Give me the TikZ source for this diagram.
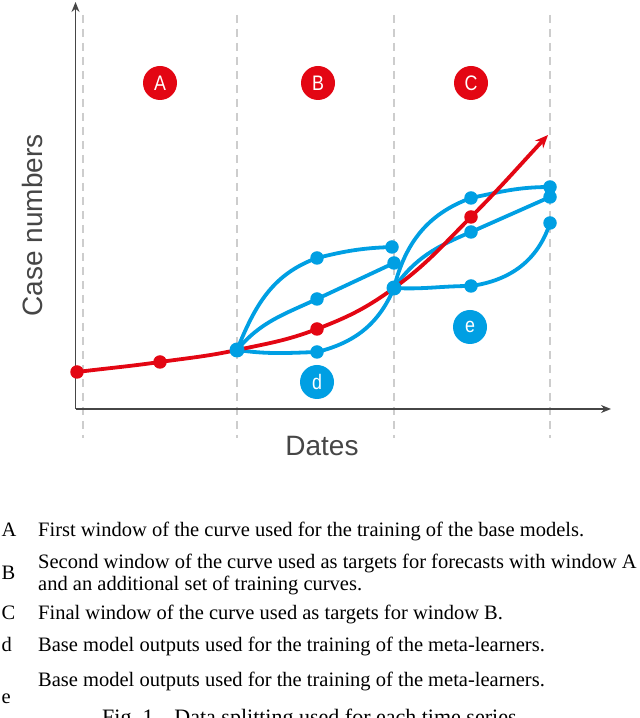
\documentclass[tikz,border=0pt]{standalone}
\usepackage{fontspec}
\setmainfont{Liberation Serif}
\setsansfont{Liberation Sans}
\newfontfamily\badgefont[FakeStretch=0.85]{Liberation Sans}
\usetikzlibrary{arrows.meta}
\definecolor{cred}{RGB}{227,6,19}
\definecolor{cblue}{RGB}{0,159,227}
\definecolor{cgray}{RGB}{205,205,205}
\definecolor{cdark}{RGB}{70,70,70}
\begin{document}
\begin{tikzpicture}[x=1pt,y=1pt,
 redline/.style={cred, line width=3.8pt},
 blueline/.style={cblue, line width=3.8pt},
 reddot/.style={circle, fill=cred, inner sep=0pt, minimum size=13.5pt},
 bluedot/.style={circle, fill=cblue, inner sep=0pt, minimum size=13.5pt},
 bigdot/.style={circle, fill=cblue, inner sep=0pt, minimum size=15pt},
 badge/.style={circle, inner sep=0pt, minimum size=34pt, text=white, font=\badgefont\fontsize{21}{21}\selectfont},
 guide/.style={cgray, line width=1.8pt, dash pattern=on 8pt off 6pt},
 axisline/.style={cdark, line width=1.6pt, -{Stealth[length=10pt,width=8pt]}},
 axlabel/.style={text=cdark, inner sep=0pt, font=\sffamily\fontsize{28}{28}\selectfont},
 legtext/.style={anchor=base west, inner sep=0pt, font=\fontsize{20.5}{22}\selectfont},
]
\useasboundingbox (0,0) rectangle (640,718);
% guides
\foreach \gx/\gn in {83/g1,237/g2,394/g3,550/g4}{
  \coordinate (\gn t) at (\gx,703);
  \coordinate (\gn b) at (\gx,280);
  \draw[guide] (\gn t) -- (\gn b);
}
% axes
\coordinate (o) at (75.5,309);
\coordinate (ytip) at (75.5,716);
\coordinate (xtip) at (611,309);
\draw[axisline] (o) -- (ytip);
\draw[axisline] (o) -- (xtip);
\node[axlabel, anchor=base] (xlab) at (322,262) {Dates};
\node[axlabel, anchor=base, rotate=90] (ylab) at (42,492.5) {Case numbers};
% points
\coordinate (r1) at (77,346);
\coordinate (r2) at (160,356);
\coordinate (J1) at (237,368);
\coordinate (r4) at (317,389);
\coordinate (J2) at (394,430);
\coordinate (r6) at (471,501);
\coordinate (rtip) at (548,583);
\coordinate (bt) at (317,460);
\coordinate (bte) at (392,471);
\coordinate (bm) at (317,419);
\coordinate (bme) at (394,455);
\coordinate (bb) at (317,366);
\coordinate (ct) at (471,520);
\coordinate (cte) at (550,531);
\coordinate (cm) at (471,486);
\coordinate (cme) at (550,521);
\coordinate (cb) at (471,432);
\coordinate (cbe) at (550,495);
% blue curves
\draw[blueline] (J1) to[out=68,in=200] (bt) to[out=14,in=182] (bte);
\draw[blueline] (J1) to[out=50,in=205] (bm) -- (bme);
\draw[blueline] (J1) to[out=-8,in=182] (bb) to[out=14,in=247] (J2);
\draw[blueline] (J2) to[out=76,in=200] (ct) to[out=12,in=180] (cte);
\draw[blueline] (J2) to[out=55,in=203] (cm) -- (cme);
\draw[blueline] (J2) to[out=-3,in=180] (cb) to[out=8,in=252] (cbe);
% red curve
\draw[redline, -{Stealth[length=13pt,width=11pt]}] (r1) to[out=7,in=188] (r2) to[out=8,in=192] (J1) to[out=12,in=201] (r4) to[out=21,in=216] (J2) to[out=36,in=225] (r6) to[out=45,in=227] (rtip);
% dots
\foreach \p in {r1,r2,r4,r6}{\node[reddot] at (\p) {};}
\foreach \p in {bt,bte,bm,bme,bb,ct,cte,cm,cme,cb,cbe}{\node[bluedot] at (\p) {};}
\node[bigdot] (J1dot) at (J1) {};
\node[bigdot] (J2dot) at (J2) {};
% badges
\node[badge, fill=cred] (A) at (160,635) {A};
\node[badge, fill=cred] (B) at (318,635) {B};
\node[badge, fill=cred] (C) at (471,635) {C};
\node[badge, fill=cblue] (d) at (317,336) {d};
\node[badge, fill=cblue] (e) at (470,391) {e};
% legend
\node[legtext] (la) at (1.5,181) {A};
\node[legtext] (ta) at (38,181) {First window of the curve used for the training of the base models.};
\node[legtext] (lb) at (1.5,138) {B};
\node[legtext] (tb1) at (38,149) {Second window of the curve used as targets for forecasts with window A};
\node[legtext] (tb2) at (38,127) {and an additional set of training curves.};
\node[legtext] (lc) at (1.5,98) {C};
\node[legtext] (tc) at (38,98) {Final window of the curve used as targets for window B.};
\node[legtext] (ld) at (1.5,66) {d};
\node[legtext] (td) at (38,66) {Base model outputs used for the training of the meta-learners.};
\node[legtext] (te) at (38,31) {Base model outputs used for the training of the meta-learners.};
\node[legtext] (le) at (1.5,14) {e};
\node[legtext, font=\fontsize{22}{24}\selectfont] (cap) at (102,-6) {Fig.~1.\hspace{0.7em}Data splitting used for each time series.};
\end{tikzpicture}
\end{document}
